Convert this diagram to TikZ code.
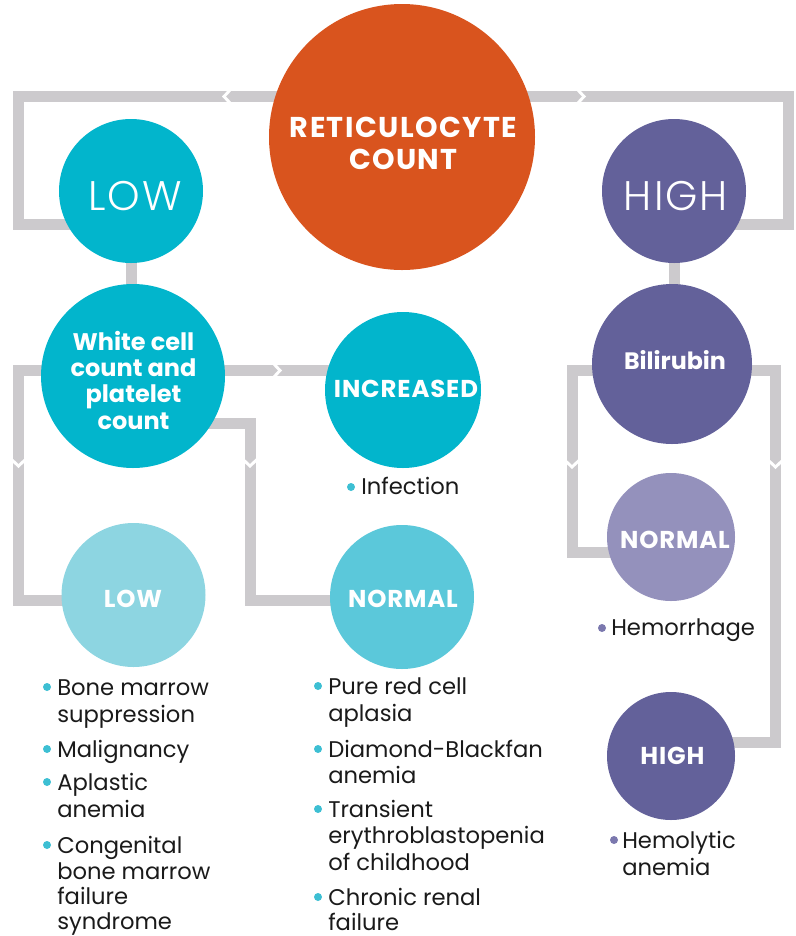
\documentclass[tikz,border=0pt]{standalone}
\usepackage{fontspec}
\setmainfont{Poppins}
\IfFontExistsTF{Poppins Light}{\newfontfamily\lightfont{Poppins Light}}{\newfontfamily\lightfont{Poppins}}
\definecolor{orangec}{HTML}{D9541E}
\definecolor{tealc}{HTML}{02B5CC}
\definecolor{purplec}{HTML}{63619A}
\definecolor{lpurplec}{HTML}{9491BC}
\definecolor{lbluec}{HTML}{8DD5E1}
\definecolor{mcyanc}{HTML}{5BC8DA}
\definecolor{barc}{HTML}{CCCACD}
\definecolor{bulc}{HTML}{3DBFD3}
\definecolor{bulp}{HTML}{7B78AE}
\definecolor{txtc}{HTML}{1A1A1A}
\tikzset{
  bar/.style={draw=barc, line width=8.25pt, line join=miter, line cap=butt},
  notch/.style={draw=white, line width=2.2pt, line join=miter},
  circ/.style={circle, inner sep=0pt, draw=none},
  ctext/.style={text=white, inner sep=0pt, anchor=base},
  bold/.style={font=\bfseries\fontsize{18pt}{21pt}\selectfont},
  boldcaps/.style={font=\bfseries\fontsize{18.3pt}{21pt}\selectfont\addfontfeature{LetterSpace=3.5}},
  titlef/.style={font=\bfseries\fontsize{21.5pt}{25pt}\selectfont\addfontfeature{LetterSpace=5}},
  bigf/.style={font=\lightfont\fontsize{31pt}{36pt}\selectfont\addfontfeature{LetterSpace=5}},
  itemt/.style={text=txtc, inner sep=0pt, anchor=base west, font=\fontsize{17pt}{20pt}\selectfont},
  dotc/.style={circle, fill=bulc, inner sep=0pt, minimum size=6pt},
  dotp/.style={circle, fill=bulp, inner sep=0pt, minimum size=6pt},
}
\begin{document}
\begin{tikzpicture}[x=0.75pt,y=-0.75pt]
\useasboundingbox (0,0) rectangle (796,936);
% coordinates of bar corners
\coordinate (c1) at (18.5,96.5);
\coordinate (c2) at (18.5,224);
\coordinate (c3) at (788,96.5);
\coordinate (c4) at (788,224);
\coordinate (c5) at (18.5,370.5);
\coordinate (c6) at (18.5,600.5);
\coordinate (c7) at (250,423);
\coordinate (c8) at (250,600.5);
\coordinate (c9) at (572,370.5);
\coordinate (c10) at (572,552.5);
\coordinate (c11) at (775.5,370.5);
\coordinate (c12) at (775.5,742);
% circle positions
\path (402,137) coordinate (pret) (131,191) coordinate (plowA) (674,191) coordinate (phighA)
      (133,376) coordinate (pwc) (403,390) coordinate (pinc) (672,364) coordinate (pbili)
      (671,537) coordinate (pnormP) (671,756) coordinate (phighB) (133.5,595) coordinate (plowB)
      (402,597) coordinate (pnormC);
% bars
\draw[bar] (pret |- c1) -- (c1) -- (c2) -- (plowA |- c2);
\draw[bar] (pret |- c3) -- (c3) -- (c4) -- (phighA |- c4);
\draw[bar] (plowA) -- (plowA |- pwc);
\draw[bar] (phighA) -- (phighA |- pbili);
\draw[bar] (pwc |- c5) -- (c5) -- (c6) -- (plowB |- c6);
\draw[bar] (pwc |- c5) -- (pinc |- c5);
\draw[bar] (pwc |- c7) -- (c7) -- (c8) -- (pnormC |- c8);
\draw[bar] (pbili |- c9) -- (c9) -- (c10) -- (pnormP |- c10);
\draw[bar] (pbili |- c11) -- (c11) -- (c12) -- (phighB |- c12);
% chevron notches
\draw[notch] (231,89) -- (224,96.5) -- (231,104);
\draw[notch] (577,89) -- (584,96.5) -- (577,104);
\draw[notch] (11,459) -- (18.5,466) -- (26,459);
\draw[notch] (273,363) -- (280,370.5) -- (273,378);
\draw[notch] (242.5,459) -- (250,466) -- (257.5,459);
\draw[notch] (564.5,460) -- (572,467) -- (579.5,460);
\draw[notch] (768,460) -- (775.5,467) -- (783,460);
% circles
\node[circ, fill=orangec, minimum size=199.5pt] (ret) at (pret) {};
\node[circ, fill=tealc, minimum size=108pt] (lowA) at (plowA) {};
\node[circ, fill=purplec, minimum size=108pt] (highA) at (phighA) {};
\node[circ, fill=tealc, minimum size=138pt] (wc) at (pwc) {};
\node[circ, fill=tealc, minimum size=117pt] (inc) at (pinc) {};
\node[circ, fill=purplec, minimum size=120pt] (bili) at (pbili) {};
\node[circ, fill=lpurplec, minimum size=96pt] (normP) at (pnormP) {};
\node[circ, fill=purplec, minimum size=96pt] (highB) at (phighB) {};
\node[circ, fill=lbluec, minimum size=108pt] (lowB) at (plowB) {};
\node[circ, fill=mcyanc, minimum size=108pt] (normC) at (pnormC) {};
% circle texts
\node[ctext, titlef] (t1) at (403.5,137) {RETICULOCYTE};
\node[ctext, titlef] (t2) at (403.5,169) {COUNT};
\node[ctext, bigf] (t3) at (135,210) {LOW};
\node[ctext, bigf] (t4) at (676,210) {HIGH};
\node[ctext, bold] (t5) at (133.5,350) {White cell};
\node[ctext, bold] (t6) at (133.5,376) {count and};
\node[ctext, bold] (t7) at (133.5,402) {platelet};
\node[ctext, bold] (t8) at (133.5,429) {count};
\node[ctext, boldcaps] (t9) at (406,397) {INCREASED};
\node[ctext, bold, font=\bfseries\fontsize{17.8pt}{21pt}\selectfont] (t10) at (675,369) {Bilirubin};
\node[ctext, boldcaps] (t11) at (675,548) {NORMAL};
\node[ctext, boldcaps] (t12) at (672.5,764) {HIGH};
\node[ctext, boldcaps] (t13) at (133,607) {LOW};
\node[ctext, boldcaps] (t14) at (403,607) {NORMAL};
% bullets
\node[dotc] (d1) at (351,487) {};
\node[itemt] (i1) at (361,494) {Infection};
\node[dotp] (d2) at (602,628) {};
\node[itemt] (i2) at (611,635) {Hemorrhage};
\node[dotp] (d3) at (614,840) {};
\node[itemt] (i3) at (622,848) {Hemolytic};
\node[itemt] (i4) at (622,875) {anemia};
% left list
\node[dotc] (d4) at (47,687) {};
\node[itemt] (l1) at (57,695) {Bone marrow};
\node[itemt] (l2) at (57,722) {suppression};
\node[dotc] (d5) at (47,749) {};
\node[itemt] (l3) at (57,757) {Malignancy};
\node[dotc] (d6) at (47,782) {};
\node[itemt] (l4) at (57,790) {Aplastic};
\node[itemt] (l5) at (57,817) {anemia};
\node[dotc] (d7) at (47,845) {};
\node[itemt] (l6) at (57,853) {Congenital};
\node[itemt] (l7) at (57,879) {bone marrow};
\node[itemt] (l8) at (57,904) {failure};
\node[itemt] (l9) at (57,929) {syndrome};
% middle list
\node[dotc] (d8) at (318,686) {};
\node[itemt] (m1) at (328,694) {Pure red cell};
\node[itemt] (m2) at (328,721) {aplasia};
\node[dotc] (d9) at (318,749) {};
\node[itemt] (m3) at (328,757) {Diamond-Blackfan};
\node[itemt] (m4) at (328,783) {anemia};
\node[dotc] (d10) at (318,809) {};
\node[itemt] (m5) at (328,817) {Transient};
\node[itemt] (m6) at (328,843) {erythroblastopenia};
\node[itemt] (m7) at (328,870) {of childhood};
\node[dotc] (d11) at (318,897) {};
\node[itemt] (m8) at (328,905) {Chronic renal};
\node[itemt] (m9) at (328,930) {failure};
\end{tikzpicture}
\end{document}
